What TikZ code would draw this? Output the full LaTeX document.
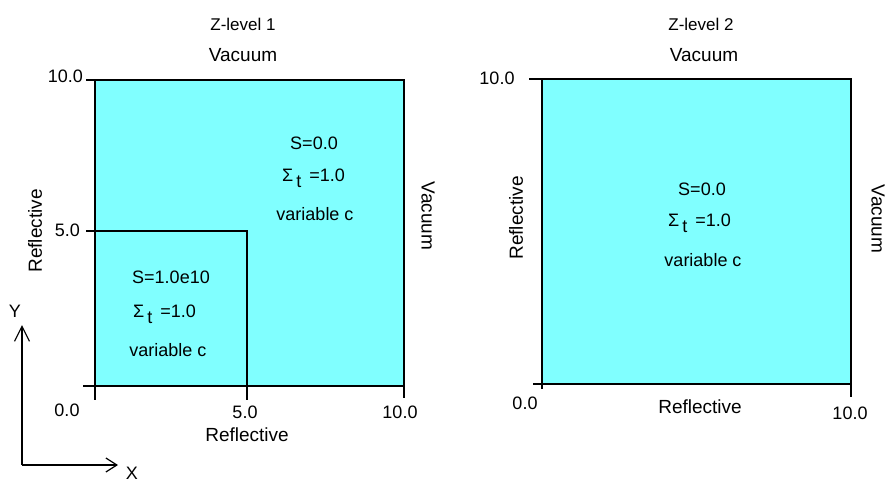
\documentclass[tikz,border=0pt]{standalone}
\usepackage{fontspec}
\setmainfont{Liberation Sans}
\usetikzlibrary{positioning,arrows.meta,calc}
\definecolor{cellcyan}{RGB}{128,255,255}

\begin{document}
\begin{tikzpicture}[
		x=1pt, y=-1pt,
		font=\fontsize{18}{21}\selectfont,
		region/.style={draw, line width=1.2pt, fill=cellcyan},
		edge/.style={line width=1.2pt},
		bnd/.style={inner sep=0pt, font=\fontsize{19}{22}\selectfont},
		num/.style={inner sep=0pt},
		ttl/.style={inner sep=0pt, font=\fontsize{17}{20}\selectfont},
		info/.style={inner sep=0pt},
		arr/.style={-{Straight Barb[length=11pt, width=14pt]}, line width=1.2pt}
		]
		\useasboundingbox (0,0) rectangle (888,484);
		% Z-level 1
		\draw[region] (95,80) rectangle (404,386);
		\draw[edge] (95,231) -| (247,386);
		\draw[edge] (86,80) -- (95,80) (86,231) -- (95,231) (83,386) -- (95,386)
		(95,386) -- (95,400) (247,386) -- (247,400) (404,386) -- (404,398);
		\node[ttl] (ztitle1) at (243,24) {Z-level 1};
		\node[bnd] (top1) at (243,55) {Vacuum};
		\node[bnd] (bot1) at (247,435) {Reflective};
		\node[bnd, rotate=90] (left1) at (35,231) {Reflective};
		\node[bnd, rotate=-90] (right1) at (428,216) {Vacuum};
		\node[num, anchor=east] (ya1) at (83,76) {10.0};
		\node[num, anchor=east] (yb1) at (80,230) {5.0};
		\node[num] (xa1) at (67,410) {0.0};
		\node[num] (xb1) at (245,412) {5.0};
		\node[num] (xc1) at (400,412) {10.0};
		\node[info] (s1) at (314,143) {S=0.0};
		\node[info, anchor=base west] (sig1) at (282,181) {Σ\,\raisebox{-0.7ex}{t}\, =1.0};
		\node[info] (c1) at (315,214) {variable c};
		\node[info] (s2) at (171,277) {S=1.0e10};
		\node[info, anchor=base west] (sig2) at (133,317) {Σ\,\raisebox{-0.7ex}{t}\, =1.0};
		\node[info] (c2) at (168,350) {variable c};
		% axes
		\coordinate (orig) at (22,465);
		\coordinate (ytip) at (22,325);
		\coordinate (xtip) at (118,465);
		\draw[arr, -{Straight Barb[length=15pt, width=15pt]}] (orig) -- (ytip);
		\draw[arr] (orig) -- (xtip);
		\node[num] (ylbl) at (15,311) {Y};
		\node[num] (xlbl) at (132,473) {X};
		% Z-level 2
		\draw[region] (542,79) rectangle (851,384);
		\draw[edge] (529,79) -- (542,79) (533,384) -- (542,384)
		(542,384) -- (542,389) (851,384) -- (851,397);
		\node[ttl] (ztitle2) at (701,24) {Z-level 2};
		\node[bnd] (top2) at (704,55) {Vacuum};
		\node[bnd] (bot2) at (700,407) {Reflective};
		\node[bnd, rotate=90] (left2) at (516,218) {Reflective};
		\node[bnd, rotate=-90] (right2) at (878,219) {Vacuum};
		\node[num] (ya2) at (497,78) {10.0};
		\node[num] (xa2) at (525,403) {0.0};
		\node[num] (xc2) at (850,413) {10.0};
		\node[info] (s3) at (702,189) {S=0.0};
		\node[info, anchor=base west] (sig3) at (668,226) {Σ\,\raisebox{-0.7ex}{t}\, =1.0};
		\node[info] (c3) at (703,260) {variable c};
	\end{tikzpicture}
\end{document}
